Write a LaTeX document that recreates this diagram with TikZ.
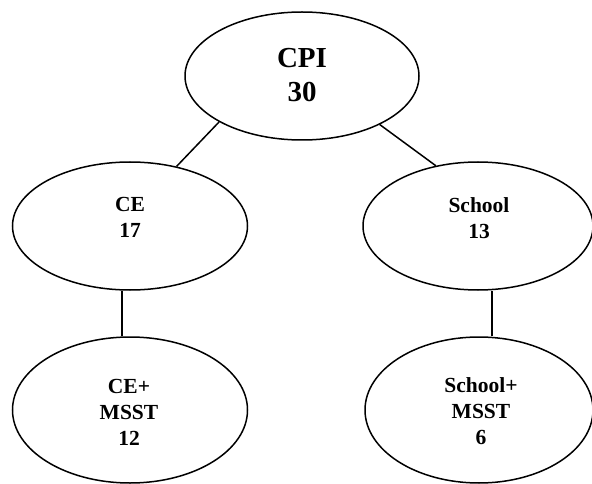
\documentclass[tikz,border=0pt]{standalone}
\usepackage{fontspec}
\setmainfont{Liberation Serif}
\usetikzlibrary{shapes.geometric}
\begin{document}
\begin{tikzpicture}[x=1pt,y=-1pt,
  oval/.style={draw,ellipse,line width=1.5pt,inner sep=0pt},
  txt/.style={align=center,inner sep=0pt,font=\bfseries\fontsize{21.5}{26}\selectfont},
  bigtxt/.style={align=center,inner sep=0pt,font=\bfseries\fontsize{29}{33.3}\selectfont},
  link/.style={line width=1.5pt}]
\useasboundingbox (0,0) rectangle (592,484);
\node[oval,minimum width=234pt,minimum height=128pt] (cpi) at (302,76) {};
\node[oval,minimum width=235pt,minimum height=128pt] (ce) at (130,226) {};
\node[oval,minimum width=230pt,minimum height=128pt] (sch) at (478,226) {};
\node[oval,minimum width=235pt,minimum height=146pt] (cem) at (130,410) {};
\node[oval,minimum width=228pt,minimum height=146pt] (scm) at (479,410) {};
\node[bigtxt] (cpit) at (302,75) {CPI\\30};
\node[txt] (cet) at (130,217) {CE\\17};
\node[txt] (scht) at (479,218) {School\\13};
\node[txt] (cemt) at (129,412) {CE+\\MSST\\12};
\node[txt] (scmt) at (481,411) {School+\\MSST\\6};
\draw[link] (cpi.209) -- (ce.52);
\draw[link] (cpi.328.5) -- (sch.125);
\draw[link] ([xshift=-8pt]ce.south) -- ([xshift=-8pt]cem.north);
\draw[link] ([xshift=14pt]sch.south) -- ([xshift=13pt]scm.north);
\end{tikzpicture}
\end{document}
